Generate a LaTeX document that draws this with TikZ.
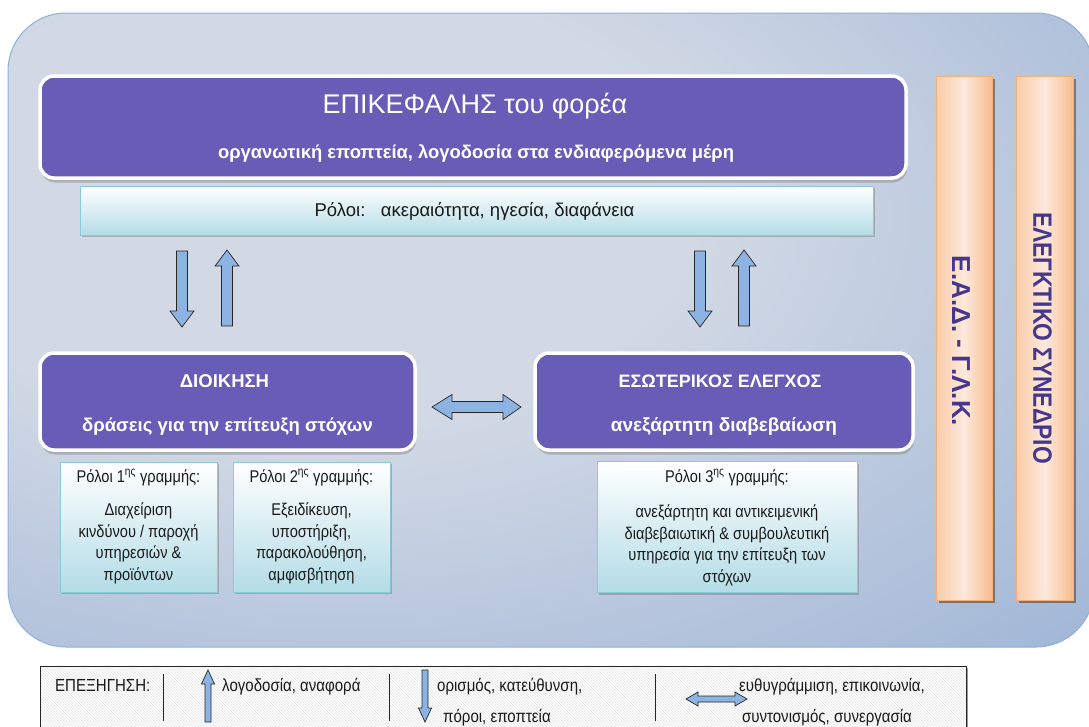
\documentclass[tikz,border=0pt]{standalone}
\usepackage{fontspec}
\setmainfont{Liberation Sans}
\newfontfamily\narrowfont[FakeStretch=0.86]{Liberation Sans}
\usetikzlibrary{shadows,patterns}

\definecolor{panelA}{HTML}{D2D9E5}
\definecolor{panelB}{HTML}{95AED3}
\definecolor{panelEdge}{HTML}{8FB0DA}
\definecolor{headpurple}{HTML}{675CB6}
\definecolor{rolecyan}{HTML}{B3DCE6}
\definecolor{roleedge}{HTML}{8CCAD6}
\definecolor{arrowblue}{HTML}{8DB3E2}
\definecolor{peachlight}{HTML}{FDE9DC}
\definecolor{peachleft}{HTML}{F9CCA9}
\definecolor{peachdark}{HTML}{F7BD8E}
\definecolor{peachedge}{HTML}{F2B07E}
\definecolor{bartext}{HTML}{45388C}
\definecolor{textdark}{HTML}{1A1A1A}

\pgfdeclareradialshading{panelglow}{\pgfpoint{-14bp}{12bp}}{%
  color(0bp)=(panelA); color(18bp)=(panelA); color(52bp)=(panelB); color(100bp)=(panelB)}

\begin{document}
\begin{tikzpicture}[x=1pt,y=-1pt,
  headbox/.style={rounded corners=14pt, fill=headpurple, draw=white, line width=3.5pt,
    drop shadow={shadow xshift=1pt, shadow yshift=-4.5pt, fill=black!45, opacity=0.5},
    inner sep=0pt},
  headtext/.style={text=white, anchor=base, inner sep=0pt},
  rolebox/.style={draw=roleedge, line width=0.8pt, top color=white, bottom color=rolecyan,
    drop shadow={shadow xshift=2pt, shadow yshift=-2pt, fill=black!50, opacity=0.5},
    inner sep=0pt},
  roletext/.style={text=textdark, anchor=base, inner sep=0pt, align=center,
    font=\narrowfont\fontsize{17}{21.5}\selectfont},
  sidebar/.style={draw=peachedge, line width=0.6pt, left color=peachleft, right color=peachdark,
    middle color=peachlight,
    drop shadow={shadow xshift=3pt, shadow yshift=-3pt, fill=black!55!brown, opacity=0.55},
    inner sep=0pt},
  sidetext/.style={text=bartext, rotate=-90, inner sep=0pt},
  blockarrow/.style={fill=arrowblue, draw=black!85, line width=0.7pt, line join=miter},
  legendtext/.style={text=textdark, inner sep=0pt, font=\narrowfont\fontsize{17.5}{20}\selectfont},
  bigarrow/.pic={\draw[blockarrow] (-5.5,0) -- (5.5,0) -- (5.5,60) -- (12,60) -- (0,76)
      -- (-12,60) -- (-5.5,60) -- cycle;},
  smallarrow/.pic={\draw[blockarrow] (-3,0) -- (3,0) -- (3,38) -- (6.5,38) -- (0,52)
      -- (-6.5,38) -- (-3,38) -- cycle;}
]
\useasboundingbox (0,0) rectangle (1089,726);
\fill[white] (0,0) rectangle (1089,726);

% background panel
\shadedraw[shading=panelglow, draw=panelEdge, line width=1pt, rounded corners=58pt]
  (8,13) rectangle (1094,647);

% head of the organisation
\node[headbox, minimum width=866pt, minimum height=102pt] (head) at (473,127) {};
\node[headtext, font=\fontsize{27}{31}\selectfont] (headTitle)
  at ([shift={(2,-14)}]head.center) {ΕΠΙΚΕΦΑΛΗΣ του φορέα};
\node[headtext, font=\bfseries\fontsize{18.4}{22}\selectfont] (headSub)
  at ([shift={(3,31)}]head.center) {οργανωτική εποπτεία, λογοδοσία στα ενδιαφερόμενα μέρη};

\node[rolebox, minimum width=793pt, minimum height=49pt] (headRoles) at (476.5,210.5) {};
\node[roletext, font=\fontsize{18.5}{22}\selectfont] (headRolesText)
  at ([shift={(-2,6)}]headRoles.center) {Ρόλοι:\ \ \ ακεραιότητα, ηγεσία, διαφάνεια};

% management
\node[headbox, minimum width=375pt, minimum height=97pt] (mgmt) at (227.5,401.5) {};
\node[headtext, font=\bfseries\fontsize{18.5}{22}\selectfont] (mgmtTitle)
  at ([shift={(-3,-14.5)}]mgmt.center) {ΔΙΟΙΚΗΣΗ};
\node[headtext, font=\bfseries\fontsize{18.5}{22}\selectfont] (mgmtSub)
  at ([shift={(0,29.5)}]mgmt.center) {δράσεις για την επίτευξη στόχων};

% internal audit
\node[headbox, minimum width=378pt, minimum height=97pt] (audit) at (724,401.5) {};
\node[headtext, font=\bfseries\fontsize{18}{22}\selectfont] (auditTitle)
  at ([shift={(-4,-14.5)}]audit.center) {ΕΣΩΤΕΡΙΚΟΣ ΕΛΕΓΧΟΣ};
\node[headtext, font=\bfseries\fontsize{19}{22}\selectfont] (auditSub)
  at ([shift={(0,29.5)}]audit.center) {ανεξάρτητη διαβεβαίωση};

% lines of defence
\node[rolebox, minimum width=157pt, minimum height=130pt] (line1) at (138.5,527) {};
\node[roletext] (line1Head) at ([shift={(0,-45)}]line1.center)
  {Ρόλοι 1\textsuperscript{ης} γραμμής:};
\node[roletext] (line1Body) at ([shift={(0,53)}]line1.center)
  {Διαχείριση\\κινδύνου / παροχή\\υπηρεσιών \&\\προϊόντων};

\node[rolebox, minimum width=157pt, minimum height=130pt] (line2) at (311.5,527) {};
\node[roletext] (line2Head) at ([shift={(0,-45)}]line2.center)
  {Ρόλοι 2\textsuperscript{ης} γραμμής:};
\node[roletext] (line2Body) at ([shift={(0,53)}]line2.center)
  {Εξειδίκευση,\\υποστήριξη,\\παρακολούθηση,\\αμφισβήτηση};

\node[rolebox, minimum width=260pt, minimum height=131pt] (line3) at (727,527) {};
\node[roletext] (line3Head) at ([shift={(0,-45)}]line3.center)
  {Ρόλοι 3\textsuperscript{ης} γραμμής:};
\node[roletext] (line3Body) at ([shift={(0,55)}]line3.center)
  {ανεξάρτητη και αντικειμενική\\διαβεβαιωτική \& συμβουλευτική\\υπηρεσία για την επίτευξη των\\στόχων};

% external bodies
\node[sidebar, minimum width=56pt, minimum height=524pt] (ead) at (964,338) {};
\node[sidetext, font=\bfseries\fontsize{26}{30}\selectfont] (eadText)
  at ([shift={(-3,3)}]ead.center) {Ε.Α.Δ. - Γ.Λ.Κ.};
\node[sidebar, minimum width=57pt, minimum height=524pt] (court) at (1044.5,338) {};
\node[sidetext, font=\narrowfont\bfseries\fontsize{26.5}{30}\selectfont] (courtText)
  at ([shift={(-2,0)}]court.center) {ΕΛΕΓΚΤΙΚΟ ΣΥΝΕΔΡΙΟ};

% vertical flows
\pic at (182,251) {bigarrow};
\pic[rotate=180] at (227,326) {bigarrow};
\pic at (700,251) {bigarrow};
\pic[rotate=180] at (744,326) {bigarrow};

% horizontal flow between management and internal audit
\draw[blockarrow] (432,407) -- (452,394.5) -- (452,401.5) -- (503,401.5) -- (503,394.5) -- (521,407)
  -- (503,419.5) -- (503,412.5) -- (452,412.5) -- (452,419.5) -- cycle;

% key
\fill[black!40] (42,668) rectangle (968,740);
\fill[white] (40,666) rectangle (966,740);
\fill[pattern=north west lines, pattern color=black!10] (40,666) rectangle (966,740);
\draw[black!85, line width=0.8pt] (40,740) -- (40,666) -- (966,666) -- (966,740);

\node[legendtext, anchor=base west] (keyTitle) at (55,691) {ΕΠΕΞΗΓΗΣΗ:};
\draw[black!85, line width=0.7pt] (163,674) -- (163,721);
\pic[rotate=180] at (208,722) {smallarrow};
\node[legendtext, anchor=base west] (keyUp) at (222,691) {λογοδοσία, αναφορά};
\draw[black!85, line width=0.7pt] (389,674) -- (389,721);
\pic at (425,670) {smallarrow};
\node[legendtext, anchor=base west] (keyDown1) at (437,691) {ορισμός, κατεύθυνση,};
\node[legendtext, anchor=base west] (keyDown2) at (443,722) {πόροι, εποπτεία};
\draw[black!85, line width=0.7pt] (655,674) -- (655,721);
\draw[blockarrow] (686,699) -- (698,692) -- (698,696) -- (735,696) -- (735,692) -- (747,699)
  -- (735,706) -- (735,702) -- (698,702) -- (698,706) -- cycle;
\node[legendtext, anchor=base] (keyBoth1) at (832,691) {ευθυγράμμιση, επικοινωνία,};
\node[legendtext, anchor=base] (keyBoth2) at (827,722) {συντονισμός, συνεργασία};
\end{tikzpicture}
\end{document}
